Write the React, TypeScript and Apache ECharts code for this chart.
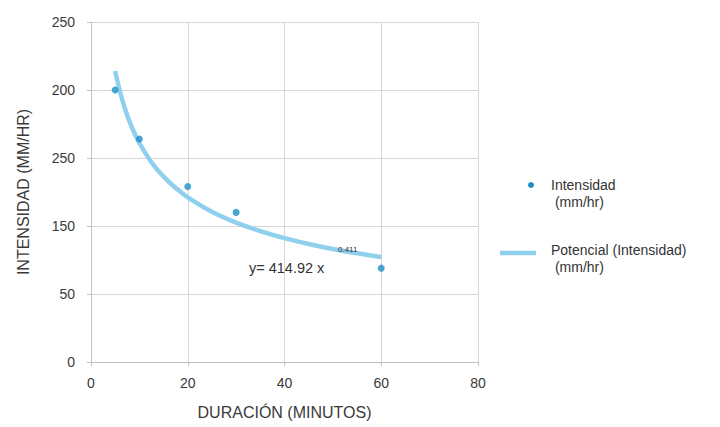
import React, { useEffect, useRef } from "react";
import * as echarts from "echarts";

const durations = [5, 10, 20, 30, 60];
const intensities = [200, 164, 129, 110, 69];
const trendX = [5, 6, 7, 8, 10, 12.5, 15, 17.5, 20, 25, 30, 35, 40, 45, 50, 55, 60];
const trendY = [214, 198.7, 186.5, 176.5, 161, 146.9, 136.3, 128, 121.1, 110.5, 102.5, 96.3, 91.1, 86.8, 83.1, 79.9, 77.2];
const yTickLabels = ["0", "50", "150", "250", "200", "250"];
const xTickLabels = ["0", "20", "40", "60", "80"];
const equationText = "y= 414.92 x";
const exponentText = "0.411";
const legendNames = ["Intensidad\n (mm/hr)", "Potencial (Intensidad)\n (mm/hr)"];

export default function App() {
  const ref = useRef<HTMLDivElement>(null);
  useEffect(() => {
    if (!ref.current) return;
    const chart = echarts.init(ref.current, null, { renderer: "svg" });
    const font = "Liberation Sans";
    const textColor = "#3a3a3a";
    chart.setOption({
      animation: false,
      backgroundColor: "#ffffff",
      grid: { left: 91, right: 242, top: 22, bottom: 65 },
      xAxis: {
        type: "value",
        min: 0,
        max: 80,
        interval: 20,
        name: "DURACIÓN (MINUTOS)",
        nameLocation: "middle",
        nameGap: 42,
        nameTextStyle: { fontFamily: font, fontSize: 16, color: textColor },
        axisLine: { show: true, lineStyle: { color: "#c0c0c0" } },
        axisTick: { show: true, length: 4, lineStyle: { color: "#c0c0c0" } },
        axisLabel: {
          margin: 14,
          fontFamily: font,
          fontSize: 14,
          color: textColor,
          formatter: (v: number) => xTickLabels[Math.round(v / 20)] ?? "",
        },
        splitLine: { show: true, lineStyle: { color: "#d6d6d6", width: 1 } },
      },
      yAxis: {
        type: "value",
        min: 0,
        max: 250,
        interval: 50,
        name: "INTENSIDAD (MM/HR)",
        nameLocation: "middle",
        nameGap: 60,
        nameRotate: 90,
        nameTextStyle: { fontFamily: font, fontSize: 16, color: textColor },
        axisLine: { show: true, lineStyle: { color: "#c0c0c0" } },
        axisTick: { show: true, length: 4, lineStyle: { color: "#c0c0c0" } },
        axisLabel: {
          margin: 16,
          fontFamily: font,
          fontSize: 14,
          color: textColor,
          formatter: (v: number) => yTickLabels[Math.round(v / 50)] ?? "",
        },
        splitLine: { show: true, lineStyle: { color: "#d6d6d6", width: 1 } },
      },
      series: [
        {
          name: "Potencial (Intensidad) (mm/hr)",
          type: "line",
          data: trendX.map((x, i) => [x, trendY[i]]),
          smooth: 0.4,
          showSymbol: false,
          lineStyle: { color: "#8fd0ee", width: 4.5 },
          z: 2,
        },
        {
          name: "Intensidad (mm/hr)",
          type: "scatter",
          data: durations.map((x, i) => [x, intensities[i]]),
          symbolSize: 7,
          itemStyle: { color: "#1d8ec6" },
          z: 3,
        },
      ],
      graphic: [
        {
          type: "text",
          left: 249,
          top: 260,
          z: 100,
          style: { text: equationText, fontFamily: font, fontSize: 14.5, fill: "#333333" },
        },
        {
          type: "text",
          left: 338,
          top: 245,
          z: 100,
          style: { text: exponentText, fontFamily: font, fontSize: 8, fill: "#333333" },
        },
        {
          type: "circle",
          shape: { cx: 531, cy: 185, r: 3 },
          style: { fill: "#1d8ec6" },
        },
        {
          type: "text",
          left: 551,
          top: 176,
          style: { text: legendNames[0], fontFamily: font, fontSize: 14, fill: "#333333", lineHeight: 17 },
        },
        {
          type: "line",
          shape: { x1: 500, y1: 253, x2: 536, y2: 253 },
          style: { stroke: "#8fd0ee", lineWidth: 4.5 },
        },
        {
          type: "text",
          left: 551,
          top: 241,
          style: { text: legendNames[1], fontFamily: font, fontSize: 14, fill: "#333333", lineHeight: 17 },
        },
      ],
    });
    return () => chart.dispose();
  }, []);
  return (
    <div
      ref={ref}
      style={{ position: "absolute", left: 0, top: 0, width: 720, height: 427 }}
    />
  );
}
